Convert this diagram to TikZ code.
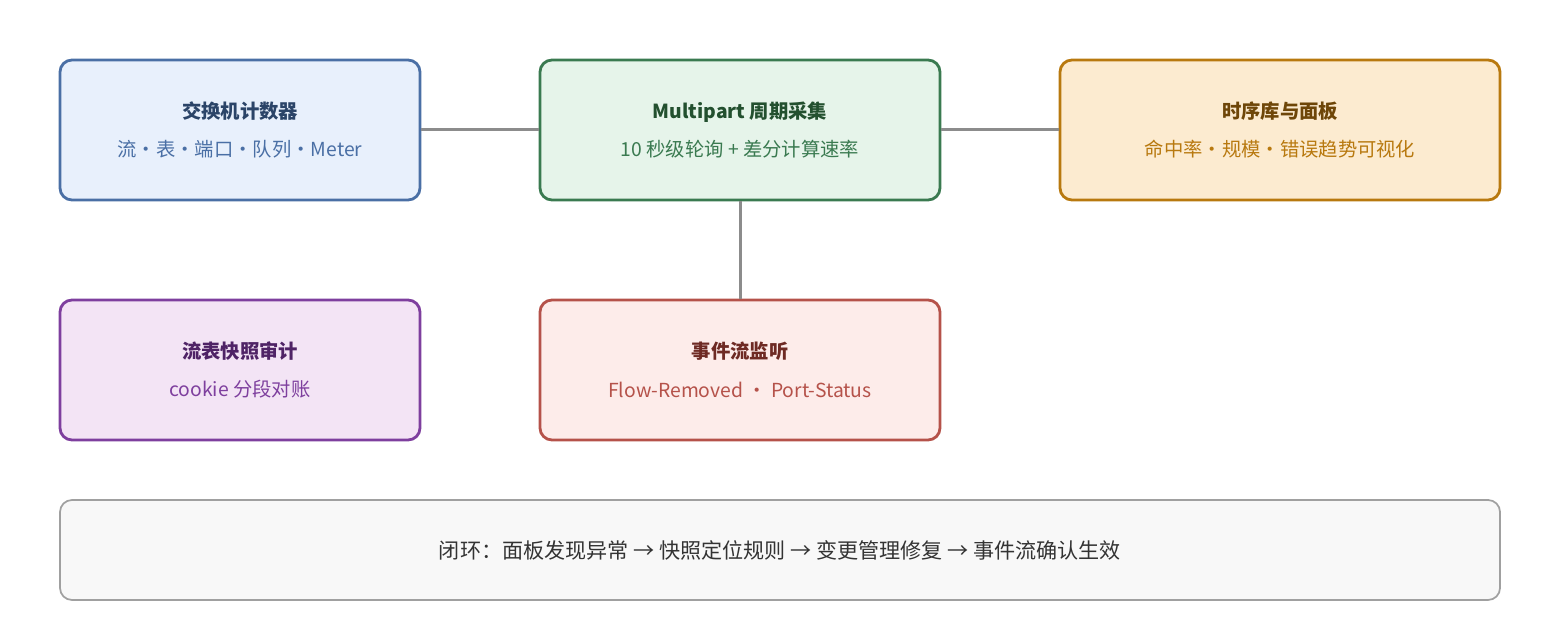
\documentclass[tikz,border=0pt]{standalone}
\usepackage{fontspec}
\setmainfont{Noto Sans CJK SC}
\usetikzlibrary{positioning}
\definecolor{blueB}{HTML}{4A6FA5}\definecolor{blueF}{HTML}{E8F0FC}\definecolor{blueT}{HTML}{2B4468}
\definecolor{greenB}{HTML}{3A7A50}\definecolor{greenF}{HTML}{E6F4EA}\definecolor{greenT}{HTML}{23502F}
\definecolor{orangeB}{HTML}{B8790F}\definecolor{orangeF}{HTML}{FCEBD0}\definecolor{orangeT}{HTML}{6E4608}
\definecolor{purpleB}{HTML}{7E3F9E}\definecolor{purpleF}{HTML}{F3E4F5}\definecolor{purpleT}{HTML}{4F2366}
\definecolor{redB}{HTML}{B5524A}\definecolor{redF}{HTML}{FDECEA}\definecolor{redT}{HTML}{6E2A24}
\definecolor{grayB}{HTML}{A0A0A0}\definecolor{grayF}{HTML}{F8F8F8}
\tikzset{
  box/.style={draw, line width=1.6pt, rounded corners=0.24cm, minimum height=2.8cm,
    align=center, font=\fontsize{11}{20}\selectfont},
  link/.style={draw=gray!90, line width=1.7pt}
}
\newcommand{\boxtext}[3]{\textbf{\textcolor{#1}{#2}}\\[2pt]\textcolor{#1!60!white!60!#1}{#3}}
\begin{document}
\begin{tikzpicture}
    % canvas: 1560 x 640 px at 50 px per cm
    \useasboundingbox (0,0) rectangle (31.2,-12.8);

    % top row
    \node[box, draw=blueB, fill=blueF, minimum width=7.2cm] (counter) at (4.8,-2.6)
        {\textbf{\textcolor{blueT}{交换机计数器}}\\[2pt]\textcolor{blueB}{流·表·端口·队列·Meter}};
    \node[box, draw=greenB, fill=greenF, minimum width=8cm] (poll) at (14.8,-2.6)
        {\textbf{\textcolor{greenT}{Multipart 周期采集}}\\[2pt]\textcolor{greenB}{10 秒级轮询 + 差分计算速率}};
    \node[box, draw=orangeB, fill=orangeF, minimum width=8.8cm] (tsdb) at (25.6,-2.6)
        {\textbf{\textcolor{orangeT}{时序库与面板}}\\[2pt]\textcolor{orangeB}{命中率·规模·错误趋势可视化}};

    % second row
    \node[box, draw=purpleB, fill=purpleF, minimum width=7.2cm] (audit) at (4.8,-7.4)
        {\textbf{\textcolor{purpleT}{流表快照审计}}\\[2pt]\textcolor{purpleB}{cookie 分段对账}};
    \node[box, draw=redB, fill=redF, minimum width=8cm] (events) at (14.8,-7.4)
        {\textbf{\textcolor{redT}{事件流监听}}\\[2pt]\textcolor{redB}{Flow-Removed · Port-Status}};

    % closed loop
    \node[box, draw=grayB, fill=grayF, line width=1pt, minimum width=28.8cm, minimum height=2cm,
        font=\fontsize{12}{14}\selectfont] (loop) at (15.6,-11)
        {\textcolor{black!80}{闭环：面板发现异常 → 快照定位规则 → 变更管理修复 → 事件流确认生效}};

    % connectors
    \draw[link] (counter.east) -- (poll.west);
    \draw[link] (poll.east) -- (tsdb.west);
    \draw[link] (poll.south) -- (events.north);
\end{tikzpicture}
\end{document}
